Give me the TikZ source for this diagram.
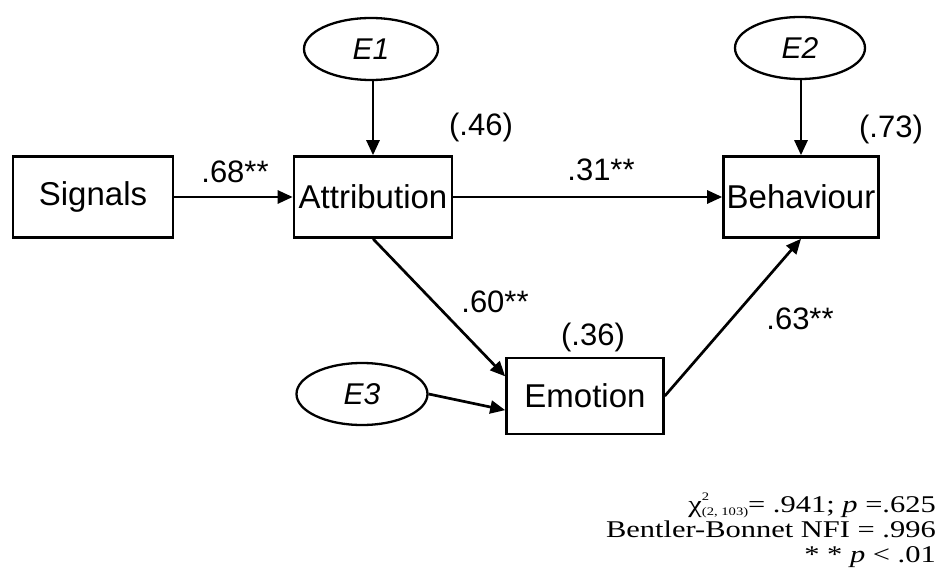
\documentclass[tikz,border=0pt]{standalone}
\usepackage{fontspec}
\setmainfont{Liberation Serif}
\newfontfamily\arialfont{Liberation Sans}
\usetikzlibrary{arrows.meta,shapes.geometric,calc}

% wide serif text for the fit statistics
\newcommand{\widetext}[1]{\scalebox{1.27}[1]{\fontsize{24}{24}\selectfont #1}}
\newcommand{\smallidx}[1]{{\fontsize{11.5}{11.5}\selectfont #1}}

\begin{document}
\begin{tikzpicture}[x=1pt,y=-1pt,
  varbox/.style={draw,line width=2.6pt,inner sep=0pt,
    font=\arialfont\fontsize{33}{33}\selectfont},
  errvar/.style={draw,ellipse,line width=2.3pt,inner sep=0pt,
    font=\arialfont\itshape\fontsize{30}{30}\selectfont},
  effect/.style={line width=2.7pt,-{Triangle[length=15pt,width=13pt]}},
  coef/.style={font=\arialfont\fontsize{31}{31}\selectfont,inner sep=0pt},
  fitline/.style={inner sep=0pt,anchor=base east}]

\useasboundingbox (0,0) rectangle (942,569);

% observed variables
\node[varbox,minimum width=160pt,minimum height=81pt] (sig) at (93,197) {Signals};
\node[varbox,minimum width=158pt,minimum height=81pt] (att) at (373,197) {Attribution};
\node[varbox,minimum width=155pt,minimum height=81pt] (beh) at (801,197) {Behaviour};
\node[varbox,minimum width=157pt,minimum height=76pt] (emo) at (585,396) {Emotion};

% error terms
\node[errvar,minimum width=134pt,minimum height=62pt] (e1) at (371,49) {E1};
\node[errvar,minimum width=130pt,minimum height=62pt] (e2) at (800,48) {E2};
\node[errvar,minimum width=131pt,minimum height=62pt] (e3) at (362,394) {E3};

% paths
\coordinate (emoA) at ($(emo.north west)!0.25!(emo.south west)$);
\coordinate (emoB) at ($(emo.north west)!0.68!(emo.south west)$);
\draw[effect] (sig) -- (att);
\draw[effect] (e1.south -| att.north) -- (att.north);
\draw[effect] (e2.south -| beh.north) -- (beh.north);
\draw[effect] (att) -- (beh);
\draw[effect] (att.south) -- (emoA);
\draw[effect] (emo.east) -- (beh.south);
\draw[effect] (e3.east) -- (emoB);

% coefficients and explained variance
\node[coef] (c1) at (235,172) {.68**};
\node[coef] (r1) at (481,127) {(.46)};
\node[coef] (c2) at (601,170) {.31**};
\node[coef] (r2) at (891,129) {(.73)};
\node[coef] (c3) at (495,302) {.60**};
\node[coef] (r3) at (593,337) {(.36)};
\node[coef] (c4) at (800,319) {.63**};

% fit statistics
\node[fitline] (f1) at (936,512) {\widetext{χ\rlap{\raisebox{0.5em}{\smallidx{2}}}\raisebox{-0.15em}{\smallidx{(2, 103)}}= .941; \textit{p} =.625}};
\node[fitline] (f2) at (936,537) {\widetext{Bentler-Bonnet NFI = .996}};
\node[fitline] (f3) at (936,562) {\widetext{* * \textit{p} < .01}};
\end{tikzpicture}
\end{document}
